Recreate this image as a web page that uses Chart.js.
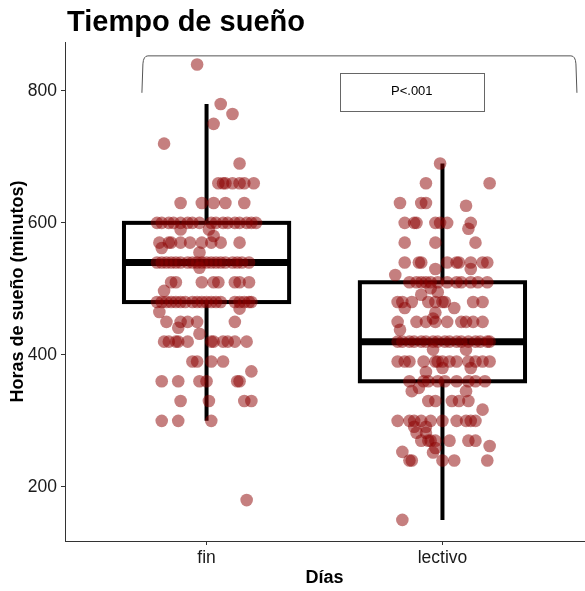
<!DOCTYPE html>
<html>
<head>
<meta charset="utf-8">
<script src="https://cdn.jsdelivr.net/npm/chart.js@4.4.1/dist/chart.umd.min.js"></script>
<style>
  html, body { margin: 0; padding: 0; background: #ffffff; }
  #wrap { width: 585px; height: 591px; }
</style>
</head>
<body>
<div id="wrap"><canvas id="c" width="585" height="591"></canvas></div>
<script>
// ---- Data ----
const categories = ['fin', 'lectivo'];
const yTicks = [200, 400, 600, 800];

// Box-plot summary per category: [lower whisker, Q1, median, Q3, upper whisker]
const boxFin = [300, 480, 540, 600, 780];
const boxLectivo = [150, 360, 420, 510, 690];

// Jittered observations: sleep minutes and horizontal jitter (category units)
const finY = [
  840, 780, 765, 750, 720, 690,
  660, 660, 660, 660, 660, 660, 660,
  630, 630, 630, 630, 630,
  600, 600, 600, 600, 600, 600, 600, 600, 600, 600, 600, 600, 600, 600, 600, 600, 600,
  590, 590, 580,
  570, 570, 570, 570, 570, 570, 570, 570, 570, 562, 555,
  540, 540, 540, 540, 540, 540, 540, 540, 540, 540, 540, 540, 540, 540, 540, 540, 540, 540, 540, 532,
  510, 510, 510, 510, 510, 510, 510, 510, 497,
  480, 480, 480, 480, 480, 480, 480, 480, 480, 480, 480, 480, 480, 480, 480, 480, 480, 480, 480,
  470, 465,
  450, 450, 450, 450, 450, 441, 432,
  420, 420, 420, 420, 420, 420, 420, 420, 420, 420, 420,
  390, 390, 390, 390, 375,
  360, 360, 360, 360, 360, 360,
  330, 330, 330, 330,
  300, 300, 300,
  180
];
const finJitter = [
  -0.04, 0.06, 0.11, 0.03, -0.18, 0.14,
  0.05, 0.07, 0.08, 0.11, 0.14, 0.16, 0.20,
  -0.11, -0.02, 0.03, 0.08, 0.16,
  -0.21, -0.19, -0.16, -0.14, -0.11, -0.08, -0.06, -0.03, 0.02, 0.04, 0.07, 0.09, 0.12, 0.14, 0.17, 0.19, 0.21,
  -0.11, 0.01, 0.03,
  -0.20, -0.16, -0.15, -0.11, -0.07, -0.02, 0.02, 0.06, 0.14, -0.19, -0.03,
  -0.21, -0.19, -0.17, -0.15, -0.13, -0.11, -0.08, -0.06, -0.04, -0.02, 0.00, 0.02, 0.04, 0.06, 0.08, 0.11, 0.13, 0.15, 0.18, -0.03,
  -0.15, -0.13, -0.02, 0.03, 0.05, 0.12, 0.14, 0.18, -0.18,
  -0.21, -0.19, -0.17, -0.15, -0.13, -0.11, -0.09, -0.06, -0.04, -0.02, 0.00, 0.02, 0.04, 0.06, 0.12, 0.14, 0.16, 0.18, 0.19,
  0.14, -0.20,
  -0.17, -0.11, -0.08, -0.04, 0.12, -0.12, -0.03,
  -0.18, -0.16, -0.13, -0.12, -0.08, 0.02, 0.03, 0.07, 0.09, 0.12, 0.17,
  -0.06, -0.04, 0.02, 0.07, 0.19,
  -0.19, -0.12, -0.03, 0.00, 0.13, 0.14,
  -0.11, 0.01, 0.16, 0.19,
  -0.19, -0.12, 0.02,
  0.17
];

const lectivoY = [
  690, 660, 660,
  630, 630, 630, 626,
  600, 600, 600, 600, 600, 600, 600, 591,
  570, 570, 570,
  540, 540, 540, 540, 540, 540, 540, 540, 540, 530, 530, 521,
  510, 510, 510, 510, 510, 510, 510, 510, 510, 510, 510, 510,
  501, 495, 491,
  480, 480, 480, 480, 480, 480, 480, 480, 480, 471, 471, 464, 455,
  450, 450, 450, 450, 450, 450, 450, 450, 450, 438,
  420, 420, 420, 420, 420, 420, 420, 420, 420, 420, 420, 420, 420, 420, 420, 420, 420,
  408, 408,
  390, 390, 390, 390, 390, 390, 390, 390, 390, 390, 390, 390, 390,
  380, 380, 374,
  360, 360, 360, 360, 360, 360, 360, 360, 360,
  350, 345, 345,
  330, 330, 330, 330, 330, 317,
  300, 300, 300, 300, 300, 300, 300, 300, 300, 300,
  291, 291, 282, 282,
  270, 270, 270, 270, 270, 270, 270,
  262, 259, 253, 252,
  240, 240, 240, 240, 240,
  150
];
const lectivoJitter = [
  -0.01, -0.07, 0.20,
  -0.18, -0.09, -0.07, 0.10,
  -0.16, -0.12, -0.11, -0.03, -0.01, 0.02, 0.12, 0.11,
  -0.16, -0.03, 0.14,
  -0.16, -0.10, -0.09, 0.02, 0.06, 0.07, 0.12, 0.17, 0.19, -0.03, 0.12, -0.20,
  -0.14, -0.11, -0.09, -0.07, -0.05, -0.02, 0.02, 0.06, 0.08, 0.12, 0.15, 0.19,
  -0.05, -0.02, -0.09,
  -0.19, -0.17, -0.13, -0.06, -0.03, 0.00, 0.01, 0.13, 0.17, -0.16, 0.05, -0.03, -0.04,
  -0.19, -0.11, -0.07, -0.03, 0.02, 0.08, 0.10, 0.13, 0.17, -0.18,
  -0.19, -0.17, -0.14, -0.12, -0.09, -0.07, -0.04, -0.02, 0.01, 0.03, 0.06, 0.08, 0.11, 0.14, 0.16, 0.19, 0.20,
  -0.04, 0.10,
  -0.19, -0.16, -0.14, -0.08, -0.03, -0.02, 0.00, 0.03, 0.06, 0.11, 0.14, 0.17, 0.20,
  0.00, 0.12, -0.07,
  -0.14, -0.08, -0.06, -0.02, 0.01, 0.06, 0.11, 0.14, 0.18,
  -0.10, -0.13, 0.10,
  -0.06, -0.03, 0.04, 0.07, 0.11, 0.17,
  -0.19, -0.14, -0.12, -0.09, -0.05, 0.00, 0.06, 0.10, 0.12, 0.14,
  -0.12, -0.07, -0.11, -0.07,
  -0.09, -0.06, -0.05, -0.03, 0.03, 0.11, 0.14,
  0.20, -0.03, -0.17, -0.04,
  -0.14, -0.13, 0.00, 0.05, 0.19,
  -0.17
];

const pLabel = 'P<.001';

// ---- Build library structures ----
const boxes = [boxFin, boxLectivo];
function toPoints(ys, jit, catIndex) {
  return ys.map((v, i) => ({ x: catIndex + 1 + jit[i], y: v }));
}

const FONT = '"Liberation Sans", Arial, sans-serif';

const boxPlugin = {
  id: 'boxes',
  beforeDatasetsDraw(chart) {
    const { ctx, scales: { x, y } } = chart;
    const half = 0.35;
    ctx.save();
    ctx.strokeStyle = '#000';
    ctx.lineCap = 'butt';
    boxes.forEach((b, i) => {
      const c = i + 1;
      const xl = x.getPixelForValue(c - half);
      const xr = x.getPixelForValue(c + half);
      const xc = x.getPixelForValue(c);
      const [lo, q1, med, q3, hi] = b.map(v => y.getPixelForValue(v));
      ctx.lineWidth = 4;
      ctx.beginPath();
      ctx.moveTo(xc, q3); ctx.lineTo(xc, hi);
      ctx.moveTo(xc, q1); ctx.lineTo(xc, lo);
      ctx.stroke();
      ctx.strokeRect(xl, q3, xr - xl, q1 - q3);
      ctx.lineWidth = 7;
      ctx.beginPath();
      ctx.moveTo(xl, med); ctx.lineTo(xr, med);
      ctx.stroke();
    });
    ctx.restore();
  },
  afterDraw(chart) {
    const { ctx, chartArea, scales: { x, y } } = chart;
    ctx.save();
    // Title
    ctx.fillStyle = '#000';
    ctx.font = 'bold 29px ' + FONT;
    ctx.textBaseline = 'alphabetic';
    ctx.textAlign = 'left';
    ctx.fillText('Tiempo de sueño', chartArea.left + 2, 31);
    // Significance bracket
    const bx1 = x.getPixelForValue(0.726), bx2 = x.getPixelForValue(2.57);
    const byTop = y.getPixelForValue(853), byLow = y.getPixelForValue(797);
    ctx.strokeStyle = '#555';
    ctx.lineWidth = 1;
    ctx.beginPath();
    ctx.moveTo(bx1, byLow);
    ctx.lineTo(bx1 + 1, byTop + 8);
    ctx.quadraticCurveTo(bx1 + 1.5, byTop, bx1 + 6, byTop);
    ctx.lineTo(bx2 - 6, byTop);
    ctx.quadraticCurveTo(bx2 - 1.5, byTop, bx2 - 1, byTop + 8);
    ctx.lineTo(bx2, byLow);
    ctx.stroke();
    // p-value box
    const px1 = x.getPixelForValue(1.565), px2 = x.getPixelForValue(2.175);
    const py1 = y.getPixelForValue(827), py2 = y.getPixelForValue(770);
    ctx.strokeStyle = '#666';
    ctx.strokeRect(Math.round(px1) + 0.5, Math.round(py1) + 0.5, Math.round(px2 - px1), Math.round(py2 - py1));
    ctx.fillStyle = '#000';
    ctx.font = '13px ' + FONT;
    ctx.textAlign = 'center';
    ctx.textBaseline = 'middle';
    ctx.fillText(pLabel, (px1 + px2) / 2, (py1 + py2) / 2);
    ctx.restore();
  }
};

const pointStyle = {
  backgroundColor: 'rgba(139,0,0,0.5)',
  borderColor: 'rgba(139,0,0,0)',
  borderWidth: 0,
  pointRadius: 6.3,
  pointHoverRadius: 6.3
};

new Chart(document.getElementById('c'), {
  type: 'scatter',
  data: {
    datasets: [
      Object.assign({ label: categories[0], data: toPoints(finY, finJitter, 0) }, pointStyle),
      Object.assign({ label: categories[1], data: toPoints(lectivoY, lectivoJitter, 1) }, pointStyle)
    ]
  },
  plugins: [boxPlugin],
  options: {
    responsive: false,
    animation: false,
    layout: { autoPadding: false, padding: { top: 42, right: 1, left: 0, bottom: 0 } },
    plugins: { legend: { display: false }, tooltip: { enabled: false }, title: { display: false } },
    scales: {
      x: {
        type: 'linear',
        min: 0.4, max: 2.6,
        afterBuildTicks(s) { s.ticks = categories.map((_, i) => ({ value: i + 1 })); },
        afterFit(s) { s.height = 50; s.paddingLeft = 0; s.paddingRight = 0; },
        ticks: {
          callback: (v) => categories[Math.round(v) - 1] || '',
          color: '#1a1a1a',
          font: { family: FONT, size: 17.5 },
          padding: 3,
          maxRotation: 0,
          autoSkip: false
        },
        grid: { display: true, drawOnChartArea: false, drawTicks: true, tickLength: 4, color: '#333', lineWidth: 1 },
        border: { display: true, color: '#333', width: 1 },
        title: { display: true, text: 'Días', color: '#000', font: { family: FONT, size: 18, weight: 'bold' }, padding: { top: 0, bottom: 2 } }
      },
      y: {
        type: 'linear',
        min: 118, max: 874,
        afterBuildTicks(s) { s.ticks = yTicks.map(v => ({ value: v })); },
        afterFit(s) { s.width = 65; s.paddingTop = 0; s.paddingBottom = 0; },
        ticks: {
          color: '#1a1a1a',
          font: { family: FONT, size: 17.5 },
          padding: 4
        },
        grid: { display: true, drawOnChartArea: false, drawTicks: true, tickLength: 4, color: '#333', lineWidth: 1 },
        border: { display: true, color: '#333', width: 1 },
        title: { display: true, text: 'Horas de sueño (minutos)', color: '#000', font: { family: FONT, size: 18, weight: 'bold' }, padding: { top: 7, bottom: 0 } }
      }
    }
  }
});
</script>
</body>
</html>
